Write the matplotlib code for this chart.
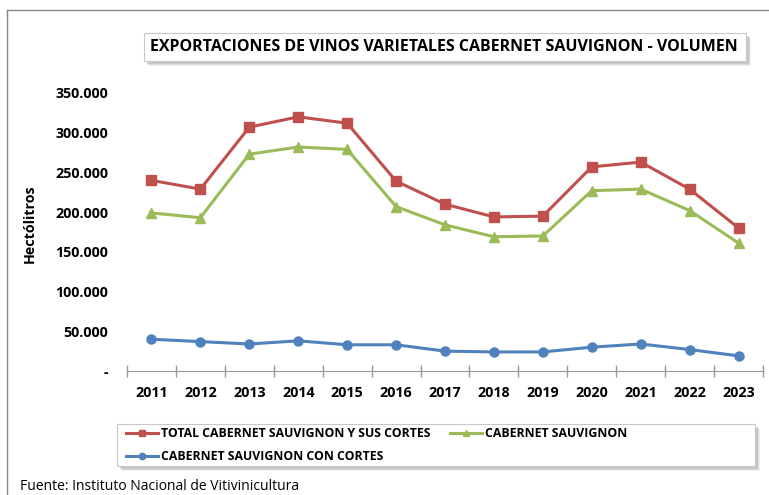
import matplotlib
matplotlib.use("Agg")
import matplotlib.pyplot as plt
from matplotlib.patches import Rectangle
from matplotlib.lines import Line2D
from matplotlib.ticker import FuncFormatter, FixedLocator

years = ["2011", "2012", "2013", "2014", "2015", "2016", "2017",
         "2018", "2019", "2020", "2021", "2022", "2023"]
total_cortes = [240000, 229000, 307000, 320000, 312000, 239000, 210000,
                194000, 195000, 257000, 263000, 229000, 180000]
cabernet = [199000, 193000, 273000, 282000, 279000, 207000, 184000,
            169000, 170000, 227000, 229000, 202000, 161000]
con_cortes = [40000, 37000, 34000, 38000, 33000, 33000, 25000,
              24000, 24000, 30000, 34000, 27000, 19000]
y_ticks = [0, 50000, 100000, 150000, 200000, 250000, 300000, 350000]

RED = "#C0504D"
GREEN = "#9BBB59"
BLUE = "#4F81BD"
FONT = "Open Sans"

W, H = 769, 495
fig = plt.figure(figsize=(W / 100, H / 100), dpi=100)

def fx(px):
    return px / W

def fy(py):
    return 1 - py / H

# outer chart border (only top/left visible in crop)
fig.add_artist(Line2D([fx(7), fx(7)], [fy(10), 0], color="#888888", lw=1))
fig.add_artist(Line2D([fx(7), 1], [fy(10), fy(10)], color="#888888", lw=1))

def shadow_box(x0, y0, x1, y1):
    # soft grey shadow then white box
    for d, a in [(5, 0.15), (4, 0.25), (3, 0.35)]:
        fig.add_artist(Rectangle((fx(x0 + d), fy(y1 + d)), fx(x1 - x0), (y1 - y0) / H,
                                 facecolor="#a0a0a0", edgecolor="none", alpha=a))
    fig.add_artist(Rectangle((fx(x0), fy(y1)), fx(x1 - x0), (y1 - y0) / H,
                             facecolor="white", edgecolor="#c8c8c8", lw=0.8))

# title
shadow_box(144, 33, 746, 61)
fig.text(fx(444), fy(47), "EXPORTACIONES DE VINOS VARIETALES CABERNET SAUVIGNON - VOLUMEN",
         ha="center", va="center", fontsize=11.5, fontweight="bold", family=FONT)

ax = fig.add_axes([fx(127), fy(371), fx(763 - 127), (371 - 93) / H])
x = list(range(len(years)))
ax.plot(x, total_cortes, color=RED, lw=2.2, marker="s", ms=6.5, label="TOTAL CABERNET SAUVIGNON Y SUS CORTES")
ax.plot(x, cabernet, color=GREEN, lw=2.2, marker="^", ms=7, label="CABERNET SAUVIGNON")
ax.plot(x, con_cortes, color=BLUE, lw=2.2, marker="o", ms=6.5, label="CABERNET SAUVIGNON CON CORTES")

ax.set_xlim(-0.5, len(years) - 0.5)
ax.set_ylim(0, 350000)
ax.set_yticks(y_ticks)
ax.yaxis.set_major_formatter(FuncFormatter(lambda v, p: "-" if v == 0 else f"{int(v):,}".replace(",", ".")))
ax.tick_params(axis="y", length=0, pad=13.5)
ax.xaxis.set_major_locator(FixedLocator([i - 0.5 for i in range(len(years) + 1)]))
ax.xaxis.set_minor_locator(FixedLocator(x))
ax.set_xticklabels([])
ax.set_xticklabels(years, minor=True)
ax.tick_params(axis="x", which="major", direction="inout", length=9, color="#999999", width=1)
ax.tick_params(axis="x", which="minor", length=0, pad=11)
for lab in ax.get_xticklabels(minor=True) + ax.get_yticklabels():
    lab.set_fontweight("bold")
    lab.set_fontsize(10.3)
    lab.set_family(FONT)
for s in ["top", "right", "left"]:
    ax.spines[s].set_visible(False)
ax.spines["bottom"].set_color("#999999")
ax.patch.set_visible(False)

fig.text(fx(30), fy(224), "Hectólitros", rotation=90, ha="center", va="center",
         fontsize=10.3, fontweight="bold", family=FONT)

# legend
shadow_box(117, 424, 755, 466)
h, l = ax.get_legend_handles_labels()
order = [0, 2, 1]
fig.legend([h[i] for i in order], [l[i] for i in order], ncol=2, frameon=False,
           loc="upper left", bbox_to_anchor=(fx(126), fy(427)),
           prop={"family": FONT, "weight": "bold", "size": 8.8},
           handlelength=2.6, handletextpad=0.25, columnspacing=1.6,
           labelspacing=0.8, borderaxespad=0, borderpad=0, markerscale=0.7)

fig.text(fx(20), fy(486), "Fuente: Instituto Nacional de Vitivinicultura",
         ha="left", va="center", fontsize=10, family=FONT)

fig.savefig("out.png", dpi=100)
